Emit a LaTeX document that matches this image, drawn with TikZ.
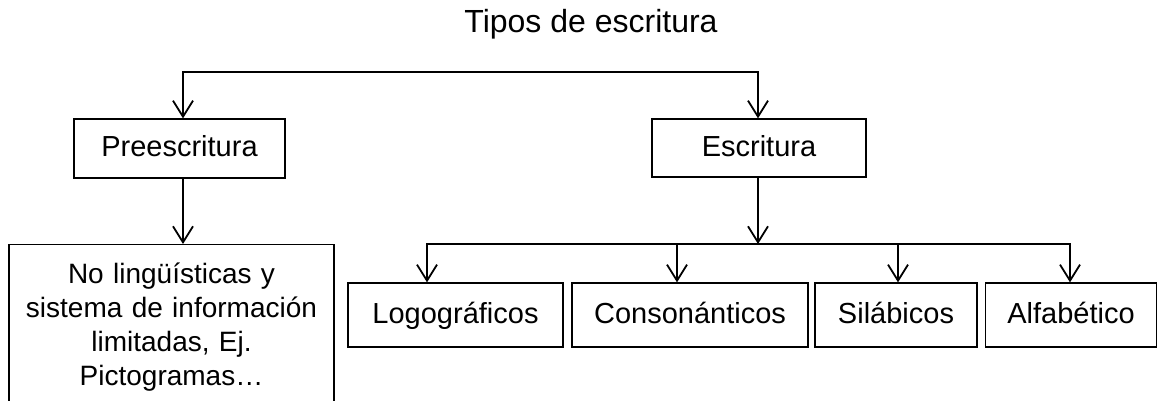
\documentclass[tikz,border=0pt]{standalone}
\usepackage{fontspec}
\setmainfont{Liberation Sans}
\usetikzlibrary{arrows.meta}
\tikzset{
  conn/.style={line width=1.8pt, line cap=rect},
  arr/.style={line width=1.8pt, -{Straight Barb[length=16pt,width=20pt]}},
  box/.style={draw, line width=1.3pt, inner sep=0pt, text height=21pt, text depth=5pt,
    font=\fontsize{29}{34}\selectfont},
}
\begin{document}
\begin{tikzpicture}[x=1pt,y=-1pt]
\clip (0,0) rectangle (1158,400);
\node[anchor=base, font=\fontsize{32}{38}\selectfont] (title) at (591,32) {Tipos de escritura};
\node[box, minimum width=211pt, minimum height=59pt] (pre) at (179.5,148.5) {Preescritura};
\node[box, minimum width=214pt, minimum height=58pt] (esc) at (759,148) {Escritura};
\node[draw, line width=1.3pt, anchor=north, minimum width=325pt, text width=320pt, align=center,
  inner xsep=2pt, inner ysep=18pt, font=\fontsize{28}{34}\selectfont] (nol) at (171.5,244)
  {No lingüísticas y\\sistema de información\\limitadas, Ej.\\Pictogramas…};
\node[box, minimum width=215pt, minimum height=64pt] (logo) at (455.5,315) {Logográficos};
\node[box, minimum width=236pt, minimum height=64pt] (cons) at (690,315) {Consonánticos};
\node[box, minimum width=162pt, minimum height=64pt] (sil) at (896,315) {Silábicos};
\node[box, minimum width=171pt, minimum height=64pt] (alf) at (1071,315) {Alfabético};
% top bracket
\coordinate (tl) at (183,72);
\coordinate (tr) at (758,72);
\draw[conn] (tl) -- (tr);
\draw[arr] (tl) -- (tl |- pre.north);
\draw[arr] (tr) -- (tr |- esc.north);
% preescritura to detail
\draw[arr] (tl |- pre.south) -- (tl |- nol.north);
% escritura to its kinds
\coordinate (bj) at (758,244);
\coordinate (bl) at (427,244);
\coordinate (bc) at (677,244);
\coordinate (bs) at (898,244);
\coordinate (br) at (1070,244);
\draw[arr] (bj |- esc.south) -- (bj);
\draw[conn] (bl) -- (br);
\draw[arr] (bl) -- (bl |- logo.north);
\draw[arr] (bc) -- (bc |- cons.north);
\draw[arr] (bs) -- (bs |- sil.north);
\draw[arr] (br) -- (br |- alf.north);
\end{tikzpicture}
\end{document}
